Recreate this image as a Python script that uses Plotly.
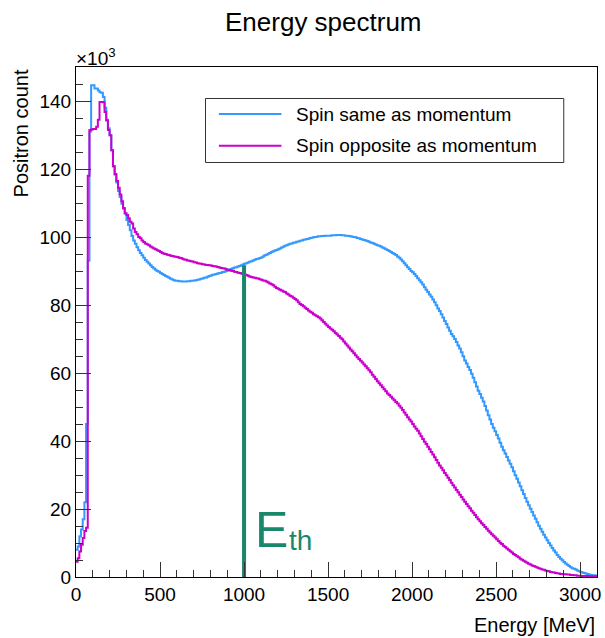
import numpy as np
import plotly.graph_objects as go

# ---- data (counts in units of 10^3 per 10 MeV bin), one row = 100 MeV ----
BIN_WIDTH = 10
E_MIN, E_MAX = 0, 3100

same_momentum = [
    8, 9, 12, 14, 17, 22, 45, 93, 131, 144.6,
    144.6, 143.7, 143.7, 143.1, 142.6, 142.4, 141.2, 138.0, 134.5, 132.0,
    129.9, 125.5, 120.8, 118.3, 116.0, 113.5, 111.8, 109.8, 108.3, 106.9,
    105.0, 103.5, 102.0, 100.3, 99.0, 98.0, 97.0, 96.1, 95.3, 94.6,
    93.9, 93.2, 92.7, 92.2, 91.7, 91.2, 90.7, 90.4, 90.0, 89.8,
    89.4, 89.1, 88.8, 88.5, 88.3, 88.0, 87.7, 87.5, 87.3, 87.1,
    87.1, 87.0, 87.0, 86.9, 86.9, 86.9, 87.0, 87.0, 87.1, 87.1,
    87.2, 87.3, 87.4, 87.5, 87.7, 87.8, 88.0, 88.1, 88.3, 88.5,
    88.7, 88.9, 89.0, 89.1, 89.3, 89.4, 89.5, 89.7, 89.8, 90.0,
    90.2, 90.4, 90.6, 90.8, 91.0, 91.1, 91.3, 91.5, 91.7, 91.9,
    92.1, 92.3, 92.5, 92.7, 92.9, 93.1, 93.3, 93.5, 93.6, 93.8,
    94.0, 94.3, 94.6, 94.8, 95.1, 95.3, 95.6, 95.8, 96.0, 96.2,
    96.4, 96.6, 96.9, 97.1, 97.4, 97.6, 97.8, 98.0, 98.1, 98.3,
    98.4, 98.6, 98.7, 98.9, 99.0, 99.2, 99.3, 99.4, 99.5, 99.7,
    99.8, 99.9, 100.0, 100.1, 100.2, 100.2, 100.3, 100.3, 100.4, 100.4,
    100.4, 100.4, 100.5, 100.5, 100.5, 100.6, 100.6, 100.6, 100.5, 100.5,
    100.4, 100.4, 100.3, 100.2, 100.1, 100.0, 99.9, 99.7, 99.6, 99.4,
    99.3, 99.1, 99.0, 98.8, 98.6, 98.4, 98.2, 98.0, 97.8, 97.6,
    97.4, 97.2, 96.9, 96.7, 96.4, 96.2, 95.9, 95.6, 95.3, 95.0,
    94.7, 94.3, 93.9, 93.4, 92.9, 92.3, 91.7, 91.1, 90.6, 90.0,
    89.6, 89.1, 88.5, 87.9, 87.3, 86.7, 86.0, 85.2, 84.5, 83.8,
    83.1, 82.4, 81.6, 80.8, 79.9, 79.0, 78.2, 77.3, 76.3, 75.3,
    74.4, 73.4, 72.4, 71.5, 70.8, 70.0, 69.1, 68.1, 67.2, 66.1,
    64.9, 63.7, 62.8, 61.8, 60.9, 59.8, 58.6, 57.3, 56.0, 54.8,
    53.8, 52.7, 51.6, 50.3, 49.0, 47.6, 46.3, 45.0, 43.9, 42.9,
    41.8, 40.7, 39.5, 38.3, 37.3, 36.3, 35.3, 34.3, 33.3, 32.3,
    31.1, 29.9, 28.9, 27.8, 26.7, 25.5, 24.4, 23.2, 22.1, 21.1,
    20.1, 19.1, 18.1, 17.1, 16.1, 15.1, 14.2, 13.3, 12.4, 11.6,
    10.8, 10.0, 9.3, 8.5, 7.8, 7.2, 6.5, 5.9, 5.4, 4.9,
    4.4, 4.0, 3.6, 3.2, 2.9, 2.6, 2.4, 2.2, 1.9, 1.7,
    1.5, 1.3, 1.2, 1.0, 0.9, 0.7, 0.6, 0.5, 0.5, 0.4,
]

opposite_momentum = [
    4.5, 5.5, 7.5, 9.5, 11.5, 13.5, 14.5, 118, 131.5, 131.6,
    131.8, 131.8, 132.4, 134.5, 139.7, 139.7, 139.6, 136.8, 134.3, 131.5,
    129.9, 125.5, 120.8, 118.5, 116.5, 114.5, 112.5, 110.5, 108.5, 107.0,
    106.5, 105.5, 104.5, 104.0, 102.5, 101.5, 100.8, 100.0, 99.6, 99.0,
    98.5, 98.1, 97.9, 97.6, 97.2, 96.9, 96.6, 96.4, 96.1, 95.9,
    95.6, 95.3, 95.1, 95.0, 94.8, 94.7, 94.5, 94.4, 94.3, 94.2,
    94.1, 93.9, 93.8, 93.6, 93.4, 93.3, 93.1, 93.0, 92.9, 92.8,
    92.6, 92.5, 92.3, 92.2, 92.1, 92.0, 91.9, 91.8, 91.8, 91.7,
    91.6, 91.5, 91.4, 91.3, 91.2, 91.0, 90.9, 90.8, 90.7, 90.5,
    90.4, 90.2, 90.1, 90.0, 89.8, 89.7, 89.5, 89.4, 89.3, 89.1,
    89.0, 88.8, 88.6, 88.4, 88.2, 88.1, 88.0, 87.9, 87.8, 87.6,
    87.4, 87.2, 87.1, 86.9, 86.6, 86.3, 86.1, 85.8, 85.4, 85.0,
    84.8, 84.5, 84.3, 84.0, 83.8, 83.4, 83.1, 82.7, 82.5, 82.1,
    81.8, 81.4, 80.8, 80.3, 80.0, 79.6, 79.2, 78.8, 78.4, 78.0,
    77.7, 77.3, 77.0, 76.7, 76.4, 76.0, 75.5, 75.0, 74.5, 74.0,
    73.5, 73.1, 72.7, 72.3, 71.8, 71.3, 70.9, 70.4, 69.9, 69.3,
    68.7, 68.1, 67.5, 66.9, 66.4, 65.8, 65.2, 64.6, 64.1, 63.6,
    63.1, 62.5, 62.0, 61.4, 60.8, 60.2, 59.5, 58.9, 58.2, 57.6,
    57.0, 56.4, 55.8, 55.2, 54.6, 54.0, 53.5, 53.0, 52.5, 52.0,
    51.5, 51.0, 50.4, 49.8, 49.1, 48.4, 47.7, 47.0, 46.3, 45.7,
    45.0, 44.3, 43.6, 43.0, 42.2, 41.4, 40.6, 39.8, 39.1, 38.3,
    37.6, 36.8, 36.0, 35.2, 34.4, 33.6, 32.8, 32.1, 31.4, 30.6,
    29.9, 29.2, 28.5, 27.7, 27.0, 26.3, 25.6, 24.9, 24.2, 23.5,
    22.8, 22.1, 21.5, 20.8, 20.2, 19.5, 18.9, 18.2, 17.6, 17.0,
    16.4, 15.8, 15.3, 14.7, 14.2, 13.6, 13.1, 12.6, 12.1, 11.6,
    11.1, 10.6, 10.1, 9.7, 9.2, 8.8, 8.4, 8.0, 7.6, 7.2,
    6.8, 6.5, 6.1, 5.8, 5.4, 5.1, 4.8, 4.5, 4.2, 3.9,
    3.7, 3.4, 3.2, 3.0, 2.8, 2.6, 2.4, 2.2, 2.1, 1.9,
    1.8, 1.7, 1.5, 1.4, 1.3, 1.2, 1.1, 1.0, 0.9, 0.9,
    0.8, 0.8, 0.7, 0.7, 0.6, 0.6, 0.5, 0.5, 0.4, 0.4,
    0.4, 0.3, 0.3, 0.3, 0.3, 0.2, 0.2, 0.2, 0.2, 0.2,
]

series_names = ["Spin same as momentum", "Spin opposite as momentum"]
E_THRESHOLD = 1000      # MeV
E_THRESHOLD_TOP = 91.7  # x10^3, height of the threshold marker
y_tick_values = [0, 20, 40, 60, 80, 100, 120, 140]
x_tick_values = [0, 500, 1000, 1500, 2000, 2500, 3000]

# ---- styles ----
FONT = "Liberation Sans, Arial, Helvetica, sans-serif"
BLUE = "#3399ff"
MAGENTA = "#cc00cc"
GREEN = "#18876a"

fig = go.Figure()
for vals, name, col in [(same_momentum, series_names[0], BLUE),
                        (opposite_momentum, series_names[1], MAGENTA)]:
    edges = E_MIN + BIN_WIDTH * np.arange(len(vals) + 1)
    fig.add_trace(go.Scatter(
        x=edges, y=list(vals) + [vals[-1]], mode="lines", name=name,
        line=dict(color=col, width=2, shape="hv"), showlegend=False,
        hoverinfo="skip"))

fig.add_trace(go.Scatter(
    x=[E_THRESHOLD, E_THRESHOLD], y=[0, E_THRESHOLD_TOP], mode="lines",
    line=dict(color=GREEN, width=4), showlegend=False, hoverinfo="skip"))

L, R, T, B = 76, 4, 67, 61
W, H = 605, 638
pw, ph = W - L - R, H - T - B


def px(xp):
    return (xp - L) / pw


def py(yp):
    return (H - B - yp) / ph


axis_common = dict(showline=True, linecolor="black", linewidth=1, mirror=True,
                   ticks="inside", tickcolor="#333333", tickwidth=1,
                   showgrid=False, zeroline=False, ticklabeloverflow="allow",
                   tickfont=dict(family=FONT, size=19, color="black"))

fig.update_xaxes(range=[E_MIN, E_MAX], tickvals=x_tick_values, ticklen=15,
                 minor=dict(dtick=100, ticklen=7, ticks="inside",
                            tickcolor="#333333", showgrid=False),
                 **axis_common)
fig.update_yaxes(range=[0, 150], tickvals=y_tick_values, ticklen=15,
                 minor=dict(dtick=5, ticklen=7, ticks="inside",
                            tickcolor="#333333", showgrid=False),
                 **axis_common)

annotations = [
    dict(text="Energy spectrum", xref="paper", yref="paper",
         x=(325 - L) / pw, y=py(22), xanchor="center", yanchor="middle",
         showarrow=False, font=dict(family=FONT, size=26, color="black")),
    dict(text="×10<sup>3</sup>", xref="paper", yref="paper",
         x=px(74), y=py(71), xanchor="left", yanchor="bottom",
         showarrow=False, font=dict(family=FONT, size=19, color="black")),
    dict(text="Positron count", xref="paper", yref="paper",
         x=px(21), y=1.0, xanchor="center", yanchor="top", textangle=-90,
         showarrow=False, font=dict(family=FONT, size=20, color="black")),
    dict(text="Energy [MeV]", xref="paper", yref="paper",
         x=1.0, y=py(625), xanchor="right", yanchor="middle",
         showarrow=False, font=dict(family=FONT, size=20, color="black")),
    dict(text="E", xref="x", yref="y", x=1062, y=5.2, borderpad=0,
         xanchor="left", yanchor="bottom", showarrow=False,
         font=dict(family=FONT, size=50, color=GREEN)),
    dict(text="th", xref="x", yref="y", x=1262, y=5.8, borderpad=0,
         xanchor="left", yanchor="bottom", showarrow=False,
         font=dict(family=FONT, size=28, color=GREEN)),
]

# legend drawn as a ROOT-style box
shapes = [dict(type="rect", xref="paper", yref="paper",
               x0=px(206.5), x1=px(567.5), y0=py(162.5), y1=py(98.5),
               line=dict(color="#333333", width=1), fillcolor="white",
               layer="above")]
for i, (name, col) in enumerate(zip(series_names, [BLUE, MAGENTA])):
    yl = 114 + i * 31.7
    shapes.append(dict(type="line", xref="paper", yref="paper",
                       x0=px(220), x1=px(283), y0=py(yl), y1=py(yl),
                       line=dict(color=col, width=2), layer="above"))
    annotations.append(dict(text=name, xref="paper", yref="paper",
                            x=px(296), y=py(yl), xanchor="left",
                            yanchor="middle", showarrow=False,
                            font=dict(family=FONT, size=19, color="black")))

fig.update_layout(width=W, height=H, margin=dict(l=L, r=R, t=T, b=B),
                  plot_bgcolor="white", paper_bgcolor="white",
                  annotations=annotations, shapes=shapes,
                  font=dict(family=FONT, color="black"))

fig.write_html("out.html")
